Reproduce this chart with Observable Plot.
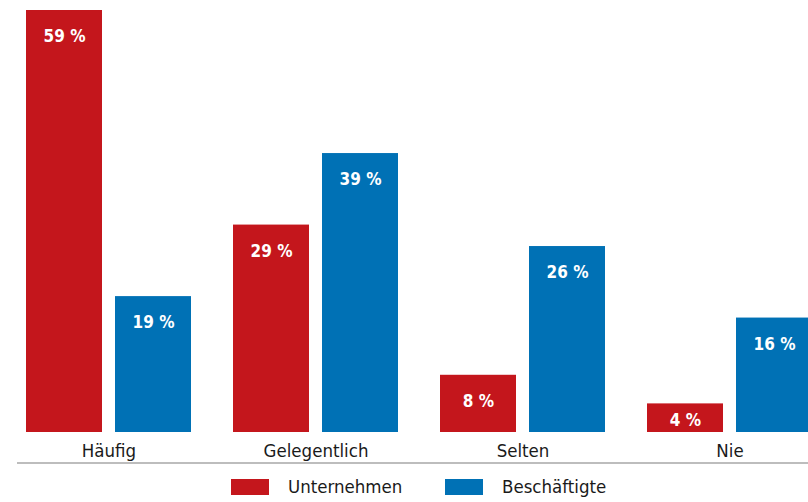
<!DOCTYPE html>
<html><head><meta charset="utf-8">
<script src="https://cdn.jsdelivr.net/npm/d3@7"></script>
<script src="https://cdn.jsdelivr.net/npm/@observablehq/plot@0.6"></script>
<style>
html,body{margin:0;padding:0;background:#fff;overflow:hidden;}
#wrap{position:relative;width:808px;height:502px;font-family:"DejaVu Sans Condensed","Liberation Sans Narrow",sans-serif;color:#1a1a1a;}
#chart{position:absolute;left:0;top:0;}
#rule{position:absolute;left:17px;top:462px;width:791px;height:2px;background:#bdbdbd;}
.item{position:absolute;top:476px;display:flex;align-items:center;font-size:18.5px;line-height:22px;height:22px;}
.sw{width:38px;height:16px;margin-right:19px;}
</style>
</head><body>
<div id="wrap"><div id="chart"></div><div id="rule"></div><div id="legend"></div></div>
<script>
const categories = ["Häufig", "Gelegentlich", "Selten", "Nie"];
const unternehmen = [59, 29, 8, 4];
const beschaeftigte = [19, 39, 26, 16];
const seriesNames = ["Unternehmen", "Beschäftigte"];
const seriesColors = ["#c4161c", "#0071b5"];

const data = categories.map((c, i) => ({cat: c, u: unternehmen[i], b: beschaeftigte[i]}));
const fmt = v => v + " %";

const plot = Plot.plot({
  width: 808,
  height: 470,
  marginTop: 10,
  marginBottom: 38,
  marginLeft: 0,
  marginRight: 0,
  style: {fontFamily: '"DejaVu Sans Condensed","Liberation Sans Narrow",sans-serif', fontSize: "18.5px", color: "#1a1a1a", background: "#fff"},
  x: {domain: categories, range: [25, 812], paddingInner: 0.204, paddingOuter: 0, label: null},
  y: {domain: [0, 59], axis: null},
  marks: [
    Plot.barY(data, {x: "cat", y: "u", fill: seriesColors[0], insetRight: 89}),
    Plot.barY(data, {x: "cat", y: "b", fill: seriesColors[1], insetLeft: 89}),
    Plot.axisX({tickSize: 0, tickPadding: 11, fontSize: 18.5, label: null}),
    Plot.text(data.filter(d => d.u >= 8), {x: "cat", y: "u", text: d => fmt(d.u), dx: -44.5, dy: 26, fill: "#fff", fontWeight: "bold", fontSize: 17, lineAnchor: "middle"}),
    Plot.text(data.filter(d => d.u < 8), {x: "cat", y: d => d.u / 2, text: d => fmt(d.u), dx: -44.5, dy: 2, fill: "#fff", fontWeight: "bold", fontSize: 17, lineAnchor: "middle"}),
    Plot.text(data, {x: "cat", y: "b", text: d => fmt(d.b), dx: 44.5, dy: 26, fill: "#fff", fontWeight: "bold", fontSize: 17, lineAnchor: "middle"})
  ]
});
document.getElementById("chart").appendChild(plot);

const legend = document.getElementById("legend");
const lefts = [231, 445];
seriesNames.forEach((name, i) => {
  const item = document.createElement("div");
  item.className = "item";
  item.style.left = lefts[i] + "px";
  const sw = document.createElement("div");
  sw.className = "sw";
  sw.style.background = seriesColors[i];
  const t = document.createElement("span");
  t.textContent = name;
  item.appendChild(sw);
  item.appendChild(t);
  legend.appendChild(item);
});
</script>
</body></html>
